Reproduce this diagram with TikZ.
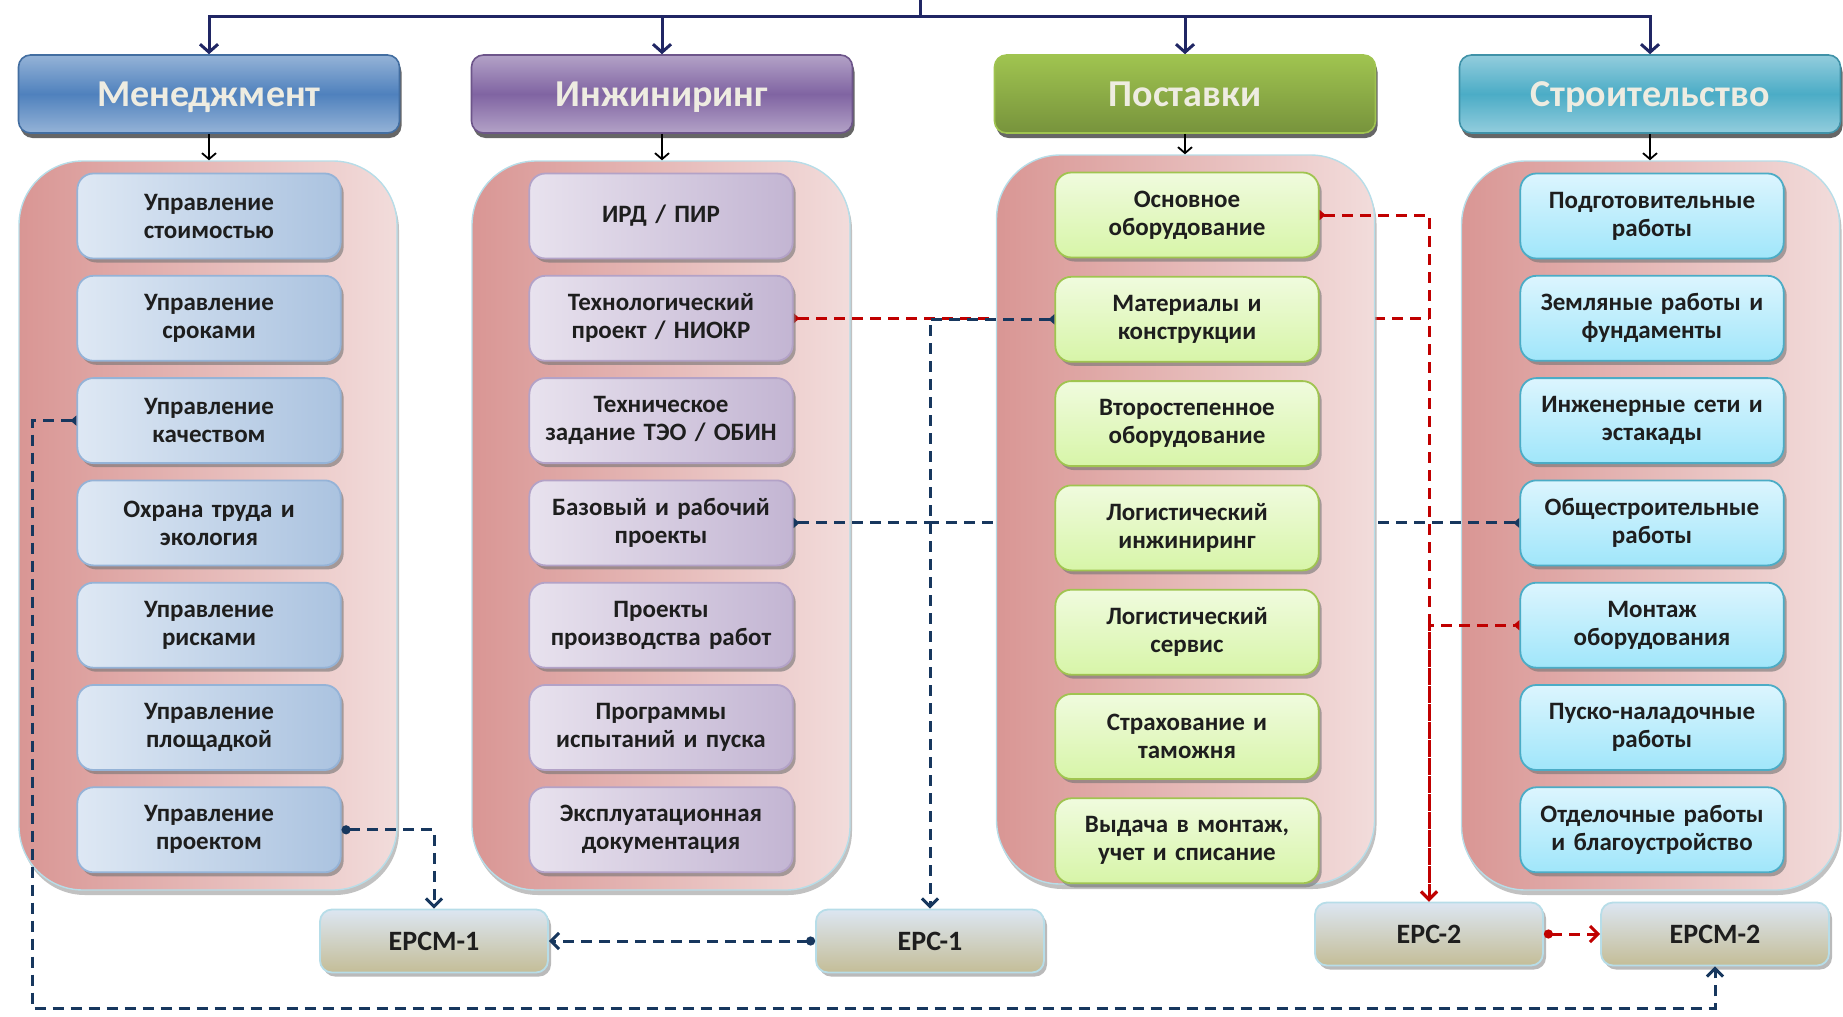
\documentclass[tikz,border=0pt]{standalone}
\usepackage{fontspec}
\setmainfont{Carlito}
\usetikzlibrary{positioning,shadows,arrows.meta,calc}
\definecolor{TopNavy}{RGB}{32,38,100}
\definecolor{LinkNavy}{RGB}{23,55,94}
\definecolor{LinkRed}{RGB}{192,0,0}
\definecolor{PinkDark}{RGB}{217,150,148}
\definecolor{PinkLight}{RGB}{242,220,219}
\definecolor{PinkEdge}{RGB}{183,221,232}
\definecolor{TitleText}{RGB}{238,236,225}
\definecolor{BoxText}{RGB}{30,30,30}
\definecolor{MgmtDark}{RGB}{79,129,189}
\definecolor{MgmtLight}{RGB}{149,179,215}
\definecolor{MgmtPale}{RGB}{222,232,244}
\definecolor{EngDark}{RGB}{128,100,162}
\definecolor{EngLight}{RGB}{179,162,199}
\definecolor{EngPale}{RGB}{232,226,238}
\definecolor{SupDark}{RGB}{119,147,60}
\definecolor{SupLight}{RGB}{160,196,80}
\definecolor{SupPale}{RGB}{240,251,222}
\definecolor{SupLime}{RGB}{215,245,168}
\definecolor{ConDark}{RGB}{75,172,198}
\definecolor{ConLight}{RGB}{147,205,221}
\definecolor{ConPale}{RGB}{220,245,254}
\definecolor{ConSky}{RGB}{160,230,250}
\definecolor{EpcTop}{RGB}{220,230,242}
\definecolor{EpcBottom}{RGB}{196,189,151}
\pgfdeclarelayer{bg}
\pgfdeclarelayer{mid}
\pgfsetlayers{bg,mid,main}
\tikzset{
  headbox/.style={rounded corners=6pt,minimum width=190.5pt,minimum height=39pt,text depth=0pt,
               font=\fontsize{19}{22}\selectfont\bfseries,text=TitleText,line width=0.8pt,
               drop shadow={shadow xshift=1pt,shadow yshift=-2.5pt,fill=black!75,opacity=0.8}},
  mhead/.style={headbox,draw=MgmtDark!85!black,top color=MgmtLight,bottom color=MgmtLight,middle color=MgmtDark},
  ehead/.style={headbox,draw=EngDark!85!black,top color=EngLight,bottom color=EngLight,middle color=EngDark},
  shead/.style={headbox,draw=SupLight,top color=SupLight,bottom color=SupDark},
  chead/.style={headbox,draw=ConDark!85!black,top color=ConLight,bottom color=ConLight,middle color=ConDark},
  contbox/.style={draw=PinkEdge,line width=0.7pt,rounded corners=32pt,left color=PinkDark,right color=PinkLight,
               minimum width=189pt,minimum height=364.5pt,
               drop shadow={shadow xshift=1pt,shadow yshift=-2.5pt,fill=black!35,opacity=0.7}},
  itembox/.style={rounded corners=8pt,minimum width=129.5pt,minimum height=42.5pt,text width=125pt,align=center,
               font=\fontsize{12.5}{14}\selectfont\bfseries,text=BoxText,line width=0.9pt,
               drop shadow={shadow xshift=1.5pt,shadow yshift=-2pt,fill=black!55,opacity=0.6}},
  mitem/.style={itembox,draw=MgmtLight,left color=MgmtPale,right color=MgmtLight!70!MgmtPale},
  eitem/.style={itembox,draw=EngLight,left color=EngPale,right color=EngLight!70!EngPale},
  sitem/.style={itembox,draw=SupLight,top color=SupPale,bottom color=SupLime},
  citem/.style={itembox,draw=ConDark,top color=ConPale,bottom color=ConSky},
  epcbox/.style={rounded corners=6pt,draw=PinkEdge,line width=0.9pt,top color=EpcTop,bottom color=EpcBottom,
              minimum width=114pt,minimum height=31.5pt,font=\fontsize{14}{16}\selectfont\bfseries,text=BoxText,
              drop shadow={shadow xshift=1.5pt,shadow yshift=-2pt,fill=black!45,opacity=0.6}},
  toparr/.style={-{Straight Barb[length=4pt,width=9pt]},TopNavy,line width=1.5pt},
  harr/.style={-{Straight Barb[length=3pt,width=7pt]},black,line width=0.9pt},
  nlink/.style={LinkNavy,line width=1.5pt,dash pattern=on 5.5pt off 3.5pt},
  rlink/.style={LinkRed,line width=1.5pt,dash pattern=on 5.5pt off 3.5pt},
  tailtri/.style={{Triangle[reversed,length=3pt,width=5pt]}-},
  tailtriarr/.style={{Triangle[reversed,length=3pt,width=5pt]}-{Straight Barb[length=4pt,width=8pt]}},
  taildotarr/.style={{Circle[length=4.5pt]}-{Straight Barb[length=4pt,width=8pt]}},
}
\begin{document}
\begin{tikzpicture}[x=0.5pt,y=-0.5pt]
  \useasboundingbox (0,0) rectangle (1843,1017);
  % pink columns
  \begin{pgfonlayer}{bg}
    \node[contbox] (cm) at (208,525.5) {};
    \node[contbox] (ce) at (661,525.5) {};
    \node[contbox] (cc) at (1650.5,525.5) {};
  \end{pgfonlayer}
  \begin{pgfonlayer}{mid}
    \node[contbox] (cs) at (1185.5,519.5) {};
  \end{pgfonlayer}

  % column headers
  \node[mhead] (hm) at (209,94) {Менеджмент};
  \node[ehead] (he) at (662,94) {Инжиниринг};
  \node[shead] (hs) at (1185,94) {Поставки};
  \node[chead] (hc) at (1650,94) {Строительство};

  \coordinate (topin) at (920,0);
  \coordinate (topbar) at (920,16);
  \draw[TopNavy,line width=1.5pt] (topin) -- (topbar);
  \draw[toparr] (topbar) -| (hm.north);
  \draw[toparr] (topbar) -| (he.north);
  \draw[toparr] (topbar) -| (hs.north);
  \draw[toparr] (topbar) -| (hc.north);
  \draw[harr] (hm.south) -- (hm.south |- cm.north);
  \draw[harr] (he.south) -- (he.south |- ce.north);
  \draw[harr] (hs.south) -- (hs.south |- cs.north);
  \draw[harr] (hc.south) -- (hc.south |- cc.north);

  % management
  \node[mitem] (m1) at (209,216) {Управление\\стоимостью};
  \node[mitem,below=7.75pt of m1] (m2) {Управление\\сроками};
  \node[mitem,below=7.75pt of m2] (m3) {Управление\\качеством};
  \node[mitem,below=7.75pt of m3] (m4) {Охрана труда и\\экология};
  \node[mitem,below=7.75pt of m4] (m5) {Управление\\рисками};
  \node[mitem,below=7.75pt of m5] (m6) {Управление\\площадкой};
  \node[mitem,below=7.75pt of m6] (m7) {Управление\\проектом};

  % engineering
  \node[eitem] (e1) at (661,216) {ИРД / ПИР};
  \node[eitem,below=7.75pt of e1] (e2) {Технологический\\проект / НИОКР};
  \node[eitem,below=7.75pt of e2] (e3) {Техническое\\задание ТЭО / ОБИН};
  \node[eitem,below=7.75pt of e3] (e4) {Базовый и рабочий\\проекты};
  \node[eitem,below=7.75pt of e4] (e5) {Проекты\\производства работ};
  \node[eitem,below=7.75pt of e5] (e6) {Программы\\испытаний и пуска};
  \node[eitem,below=7.75pt of e6] (e7) {Эксплуатационная\\документация};

  % supplies
  \node[sitem] (s1) at (1187,215) {Основное\\оборудование};
  \node[sitem,below=8.75pt of s1] (s2) {Материалы и\\конструкции};
  \node[sitem,below=8.75pt of s2] (s3) {Второстепенное\\оборудование};
  \node[sitem,below=8.75pt of s3] (s4) {Логистический\\инжиниринг};
  \node[sitem,below=8.75pt of s4] (s5) {Логистический\\сервис};
  \node[sitem,below=8.75pt of s5] (s6) {Страхование и\\таможня};
  \node[sitem,below=8.75pt of s6] (s7) {Выдача в монтаж,\\учет и списание};

  % construction
  \node[citem] (c1) at (1652,216) {Подготовительные\\работы};
  \node[citem,below=7.75pt of c1] (c2) {Земляные работы и\\фундаменты};
  \node[citem,below=7.75pt of c2] (c3) {Инженерные сети и\\эстакады};
  \node[citem,below=7.75pt of c3] (c4) {Общестроительные\\работы};
  \node[citem,below=7.75pt of c4] (c5) {Монтаж\\оборудования};
  \node[citem,below=7.75pt of c5] (c6) {Пуско-наладочные\\работы};
  \node[citem,below=7.75pt of c6] (c7) {Отделочные работы\\и благоустройство};

  % contract types
  \node[epcbox] (epcm1) at (434,941) {EPCM-1};
  \node[epcbox] (epc1) at (930,941) {EPC-1};
  \node[epcbox] (epc2) at (1429,934) {EPC-2};
  \node[epcbox] (epcm2) at (1715,934) {EPCM-2};

  % links hidden behind the supplies column
  \begin{pgfonlayer}{bg}
    \draw[rlink,tailtri] (e2.east) -- (e2.east -| epc2.north);
    \draw[nlink,tailtri] (c4.west) -- (c4.west -| epc1.north);
  \end{pgfonlayer}

  % links
  \coordinate (loopcorner) at (32,1008);
  \draw[nlink,taildotarr] (m7.east) -| (epcm1.north);
  \draw[nlink,taildotarr] (epc1.west) -- (epcm1.east);
  \draw[nlink,tailtriarr] (m3.west) -| (loopcorner) -| (epcm2.south);
  \draw[nlink,tailtriarr] (s2.west) -| (epc1.north);
  \draw[nlink,tailtri] (e4.east) -- (e4.east -| epc1.north);
  \draw[rlink,tailtriarr] (s1.east) -| (epc2.north);
  \draw[rlink,tailtriarr,dash phase=4.5pt] (c5.west) -| (epc2.north);
  \draw[rlink,taildotarr] (epc2.east) -- (epcm2.west);
\end{tikzpicture}
\end{document}
